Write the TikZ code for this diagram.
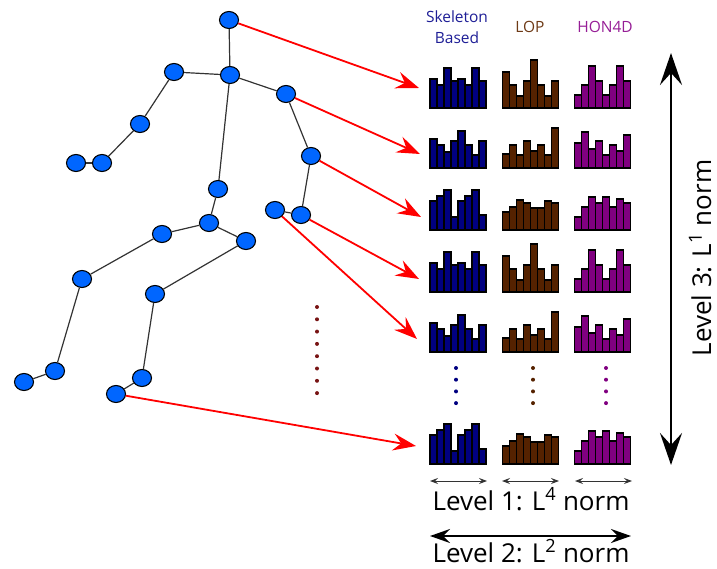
\documentclass[tikz,border=0pt]{standalone}
\usepackage{fontspec}
\setmainfont{Open Sans}
\usetikzlibrary{arrows.meta,shapes.geometric}
\definecolor{jointblue}{RGB}{0,102,255}
\definecolor{barblue}{RGB}{0,0,128}
\definecolor{barbrown}{RGB}{85,34,0}
\definecolor{barpurple}{RGB}{128,0,128}
\definecolor{txtblue}{RGB}{30,30,150}
\definecolor{txtbrown}{RGB}{110,58,22}
\definecolor{txtpurple}{RGB}{150,30,150}
\definecolor{dotred}{RGB}{120,20,20}
\newcommand\drawhist[4]{%
  \edef\histlist{#4}%
  \foreach \hh [count=\ii from 0] in \histlist {
    \draw[histbar, fill=#3] ({#1+7*\ii},#2) rectangle ++(7,-\hh);
  }%
}
\tikzset{
  joint/.style={draw=black, fill=jointblue, ellipse, minimum width=19pt, minimum height=17pt, inner sep=0pt, line width=1.1pt},
  bone/.style={draw=black!80, line width=1.2pt},
  redarr/.style={draw=red, line width=1.8pt, -{Stealth[length=23pt,width=17pt,inset=8pt]}},
  histbar/.style={draw=black, line width=1.1pt},
  smallarr/.style={draw=black!80, line width=1pt, {Stealth[length=8pt,width=6pt,inset=3pt]}-{Stealth[length=8pt,width=6pt,inset=3pt]}},
  midarr/.style={draw=black, line width=2pt, {Stealth[length=20pt,width=14pt,inset=7pt]}-{Stealth[length=20pt,width=14pt,inset=7pt]}},
  bigarr/.style={draw=black, line width=2pt, {Stealth[length=32pt,width=22pt,inset=12pt]}-{Stealth[length=32pt,width=22pt,inset=12pt]}},
  leveltxt/.style={font=\fontsize{26}{30}\selectfont, inner sep=0pt, text depth=0pt},
  titletxt/.style={font=\fontsize{15.5}{21}\selectfont, inner sep=0pt, align=center}
}
\begin{document}
\begin{tikzpicture}[x=1pt,y=-1pt]
\useasboundingbox (0,0) rectangle (717,569);
% skeleton joints
\node[joint] (head) at (229,20) {};
\node[joint] (neck) at (230,75) {};
\node[joint] (lsh) at (174,72) {};
\node[joint] (lel) at (140,124) {};
\node[joint] (lwr) at (102,163) {};
\node[joint] (lha) at (76,163) {};
\node[joint] (rsh) at (286,94) {};
\node[joint] (rel) at (311,156) {};
\node[joint] (rwr) at (301,215) {};
\node[joint] (rha) at (275,210) {};
\node[joint] (spine) at (218,189) {};
\node[joint] (hip) at (209,223) {};
\node[joint] (lhip) at (162,234) {};
\node[joint] (rhip) at (246,241) {};
\node[joint] (lkn) at (82,279) {};
\node[joint] (rkn) at (155,294) {};
\node[joint] (lan) at (55,371) {};
\node[joint] (lft) at (24,382) {};
\node[joint] (ran) at (142,378) {};
\node[joint] (rft) at (116,394) {};
% bones
\draw[bone] (head) -- (neck);
\draw[bone] (neck) -- (lsh);
\draw[bone] (lsh) -- (lel);
\draw[bone] (lel) -- (lwr);
\draw[bone] (lwr) -- (lha);
\draw[bone] (neck) -- (rsh);
\draw[bone] (rsh) -- (rel);
\draw[bone] (rel) -- (rwr);
\draw[bone] (rwr) -- (rha);
\draw[bone] (neck) -- (spine);
\draw[bone] (spine) -- (hip);
\draw[bone] (hip) -- (lhip);
\draw[bone] (hip) -- (rhip);
\draw[bone] (lhip) -- (lkn);
\draw[bone] (lkn) -- (lan);
\draw[bone] (lan) -- (lft);
\draw[bone] (rhip) -- (rkn);
\draw[bone] (rkn) -- (ran);
\draw[bone] (ran) -- (rft);
% vertical dots
\foreach \k in {0,...,7} { \fill[dotred] (317,{307+12.3*\k}) circle (2); }
% titles
\node[titletxt, text=txtblue] (tskel) at (457,27) {Skeleton\\Based};
\node[titletxt, text=txtbrown] (tlop) at (530,27) {LOP};
\node[titletxt, text=txtpurple] (thon) at (605,27) {HON4D};
% histograms
\def\Ablue{29,23,40,27,29,23,40,27}
\def\Abrown{36,23,12,27,48,23,12,27}
\def\Apurple{13,23,42,27,13,23,42,27}
\def\Bblue{29,23,16,27,37,23,13,27}
\def\Bbrown{14,23,13,27,17,23,13,40}
\def\Bpurple{25,36,19,27,13,23,17,33}
\def\Cblue{29,34,40,13,29,34,40,15}
\def\Cbrown{18,23,30,27,22,22,29,27}
\def\Cpurple{13,23,33,27,33,23,31,27}
\foreach \yb/\pat in {108/A,168/B,230/C,292/A,352/B,464/C} {
  \drawhist{430}{\yb}{barblue}{\csname\pat blue\endcsname}
  \drawhist{502.5}{\yb}{barbrown}{\csname\pat brown\endcsname}
  \drawhist{574.5}{\yb}{barpurple}{\csname\pat purple\endcsname}
}
% column dots
\foreach \k in {0,...,3} {
  \fill[barblue] (456,{368+11.7*\k}) circle (2);
  \fill[barbrown] (533,{368+11.7*\k}) circle (2);
  \fill[barpurple] (606,{368+11.7*\k}) circle (2);
}
% red arrow targets
\coordinate (t1) at (419,88);
\coordinate (t2) at (420,154);
\coordinate (t3) at (421,217);
\coordinate (t4) at (419,279);
\coordinate (t5) at (417,339);
\coordinate (t6) at (416,446);
\draw[redarr] (head) -- (t1);
\draw[redarr] (rsh) -- (t2);
\draw[redarr] (rel) -- (t3);
\draw[redarr] (rwr) -- (t4);
\draw[redarr] (rha) -- (t5);
\draw[redarr] (rft) -- (t6);
% level 1 arrows
\coordinate (a1l) at (430,481); \coordinate (a1r) at (487,481);
\coordinate (a2l) at (502,481); \coordinate (a2r) at (559,481);
\coordinate (a3l) at (575,481); \coordinate (a3r) at (632,481);
\draw[smallarr] (a1l) -- (a1r);
\draw[smallarr] (a2l) -- (a2r);
\draw[smallarr] (a3l) -- (a3r);
\node[leveltxt, anchor=base] (lev1) at (531,510) {Level 1: L\textsuperscript{4} norm};
% level 2
\coordinate (b1) at (430,536); \coordinate (b2) at (631,536);
\draw[midarr] (b1) -- (b2);
\node[leveltxt, anchor=base] (lev2) at (531,562) {Level 2: L\textsuperscript{2} norm};
% level 3
\coordinate (c1) at (671,53); \coordinate (c2) at (671,465);
\draw[bigarr] (c1) -- (c2);
\node[leveltxt, rotate=90, anchor=base] (lev3) at (711,258) {Level 3: L\textsuperscript{1} norm};
\end{tikzpicture}
\end{document}
